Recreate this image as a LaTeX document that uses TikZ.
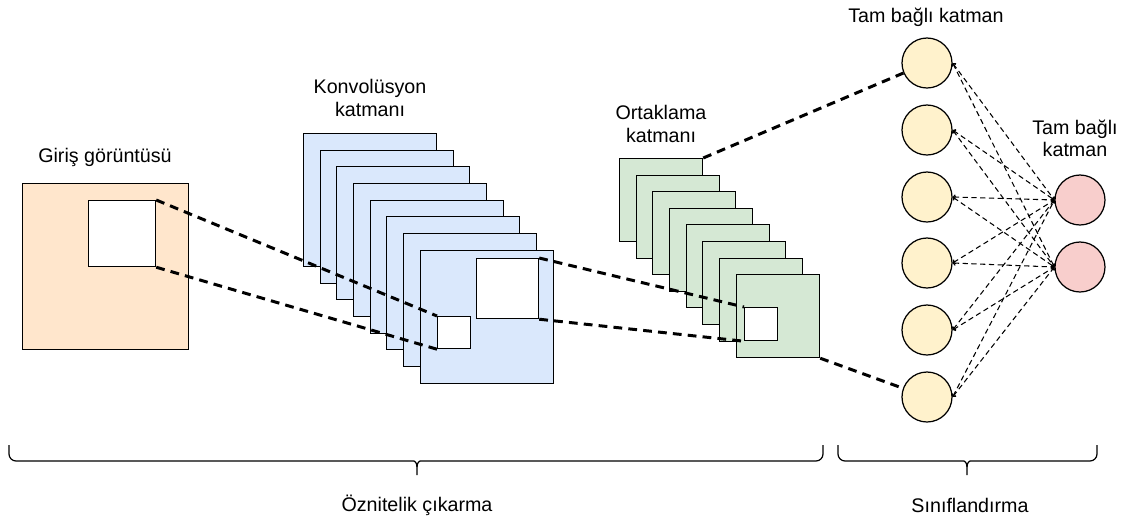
\documentclass[tikz,border=0pt]{standalone}
\usepackage{fontspec}
\setmainfont{Liberation Sans}
\usetikzlibrary{arrows.meta}
\definecolor{girisrenk}{HTML}{FFE6CC}
\definecolor{konvrenk}{HTML}{DAE8FC}
\definecolor{ortakrenk}{HTML}{D5E8D4}
\definecolor{tamrenk}{HTML}{FFF2CC}
\definecolor{ciktirenk}{HTML}{F8CECC}

\begin{document}
\begin{tikzpicture}[x=0.02cm, y=-0.02cm,
  every node/.style={inner sep=0pt, align=center, font=\fontsize{11.2}{12.6}\selectfont},
  kare/.style={draw, line width=0.7pt, anchor=north west},
  giris/.style={kare, fill=girisrenk, minimum size=3.32cm},
  konv/.style={kare, fill=konvrenk, minimum size=2.66cm},
  ortak/.style={kare, fill=ortakrenk, minimum size=1.66cm},
  beyaz/.style={kare, fill=white},
  noron/.style={circle, draw, line width=0.7pt, minimum size=1cm},
  kalin/.style={line width=1.7pt, dash pattern=on 5pt off 3.5pt},
  ince/.style={line width=0.6pt, dash pattern=on 3pt off 2pt,
    {Straight Barb[length=1.1pt,width=2.6pt]}-{Straight Barb[length=1.1pt,width=2.6pt]}},
  parantez/.style={line width=0.7pt, rounded corners=4pt}]
\useasboundingbox (0,0) rectangle (1130,522);

\begin{scope}
\node[giris] (g) at (22,183) {};
\node[beyaz, minimum width=1.34cm, minimum height=1.32cm] (gb) at (88,200) {};
\node (gyazi) at (105,157) {Giriş görüntüsü};
\end{scope}

\begin{scope}
\node[konv] (k1) at (303,133) {};
\node[konv] (k2) at (320,150) {};
\node[konv] (k3) at (336,166) {};
\node[konv] (k4) at (353,183) {};
\node[konv] (k5) at (370,200) {};
\node[konv] (k6) at (386,216) {};
\node[konv] (k7) at (403,233) {};
\node[konv] (k8) at (420,250) {};
\node[beyaz, minimum width=1.24cm, minimum height=1.2cm] (kb) at (476,258) {};
\node[beyaz, minimum width=0.66cm, minimum height=0.64cm] (kk) at (437,316) {};
\node (kyazi) at (370,98) {Konvolüsyon\\katmanı};
\end{scope}

\begin{scope}
\node[ortak] (o1) at (619,158) {};
\node[ortak] (o2) at (636,175) {};
\node[ortak] (o3) at (652,191) {};
\node[ortak] (o4) at (669,208) {};
\node[ortak] (o5) at (686,224) {};
\node[ortak] (o6) at (702,241) {};
\node[ortak] (o7) at (719,258) {};
\node[ortak] (o8) at (736,274) {};
\node[beyaz, minimum size=0.66cm] (ob) at (744,307) {};
\node (oyazi) at (661,124) {Ortaklama\\katmanı};
\end{scope}

\begin{scope}
\node[noron, fill=tamrenk] (t1) at (927,63) {};
\node[noron, fill=tamrenk] (t2) at (927,130) {};
\node[noron, fill=tamrenk] (t3) at (927,197) {};
\node[noron, fill=tamrenk] (t4) at (927,263) {};
\node[noron, fill=tamrenk] (t5) at (927,330) {};
\node[noron, fill=tamrenk] (t6) at (927,397) {};
\node[noron, fill=ciktirenk] (c1) at (1080,200) {};
\node[noron, fill=ciktirenk] (c2) at (1080,267) {};
\node (tyazi) at (926,17) {Tam bağlı katman};
\node (cyazi) at (1075,138) {Tam bağlı\\katman};
\end{scope}

\draw[kalin] (gb.north east)--(kk.north west);
\draw[kalin] (gb.south east)--(kk.south west);
\draw[kalin] (kb.north east)--(ob.north west);
\draw[kalin] (kb.south east)--(ob.south west);
\draw[kalin] (o1.north east)--(t1);
\draw[kalin] (o8.south east)--(t6);

\draw[ince] (t1.east)--(c1.west);
\draw[ince] (t1.east)--(c2.west);
\draw[ince] (t2.east)--(c1.west);
\draw[ince] (t2.east)--(c2.west);
\draw[ince] (t3.east)--(c1.west);
\draw[ince] (t3.east)--(c2.west);
\draw[ince] (t4.east)--(c1.west);
\draw[ince] (t4.east)--(c2.west);
\draw[ince] (t5.east)--(c1.west);
\draw[ince] (t5.east)--(c2.west);
\draw[ince] (t6.east)--(c1.west);
\draw[ince] (t6.east)--(c2.west);

% parantezler
\draw[parantez] (9,445) |- (407,461) [sharp corners] .. controls (414,461) and (417,462) .. (417,467) -- (417,475);
\draw[parantez] (823,445) |- (427,461) [sharp corners] .. controls (420,461) and (417,462) .. (417,467);
\draw[parantez] (838,445) |- (957,461) [sharp corners] .. controls (964,461) and (967,462) .. (967,467) -- (967,475);
\draw[parantez] (1097,445) |- (977,461) [sharp corners] .. controls (970,461) and (967,462) .. (967,467);
\node (oznitelik) at (417,505) {Öznitelik çıkarma};
\node (sinif) at (970,505) {Sınıflandırma};
\end{tikzpicture}
\end{document}
